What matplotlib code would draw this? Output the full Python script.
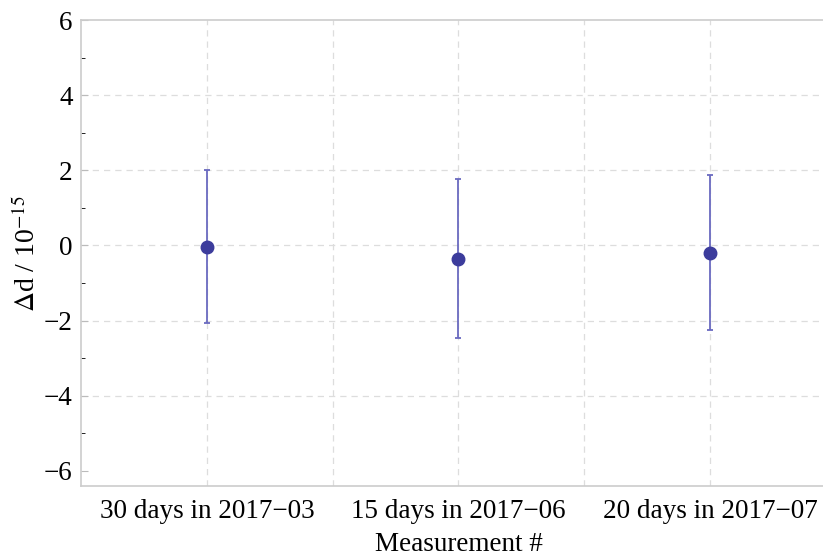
import numpy as np
import matplotlib.pyplot as plt
from matplotlib.ticker import MultipleLocator

plt.rcParams['font.family'] = ['Liberation Serif', 'DejaVu Serif']
plt.rcParams['mathtext.fontset'] = 'stix'

labels = ['30 days in 2017\u221203', '15 days in 2017\u221206', '20 days in 2017\u221207']
values = [-0.03, -0.35, -0.19]
errors = [2.04, 2.11, 2.06]

x = np.arange(1, len(values) + 1)

fig = plt.figure(figsize=(8.23, 5.56), dpi=100)
# axes run past the right edge of the figure, as in the reference
ax = fig.add_axes([81 / 823, 70 / 556, 755 / 823, 466 / 556])

ax.errorbar(x, values, yerr=errors, fmt='none', ecolor='#6a6ac0',
            elinewidth=1.3, capsize=2.5, capthick=1.3, zorder=3)
ax.plot(x, values, 'o', color='#3c3c9c', markersize=9, zorder=4)

ax.set_xlim(0.5, 3.5)
ax.set_ylim(-6.4, 6)
ax.set_xticks(x)
ax.set_xticklabels(labels)
ax.yaxis.set_major_locator(MultipleLocator(2))
ax.yaxis.set_minor_locator(MultipleLocator(1))
ax.set_yticklabels([f'{int(v)}'.replace('-', '\u2212') for v in ax.get_yticks()])

for xv in [1, 1.5, 2, 2.5, 3]:
    ax.axvline(xv, color='#dddddd', linestyle=(0, (5, 4)), linewidth=0.9, zorder=0)
for yv in [-4, -2, 0, 2, 4]:
    ax.axhline(yv, color='#dddddd', linestyle=(0, (5, 4)), linewidth=0.9, zorder=0)

for s in ax.spines.values():
    s.set_color('#cccccc')
    s.set_linewidth(1.2)

ax.tick_params(axis='both', labelsize=19.5, colors='#bbbbbb', labelcolor='black')
ax.tick_params(axis='y', which='major', length=5, direction='in', pad=6)
ax.tick_params(axis='y', which='minor', length=3, direction='in')
ax.tick_params(axis='x', length=0, pad=9)

ax.set_xlabel('Measurement #', fontsize=19.5, labelpad=6)
ax.set_ylabel(r'$\Delta$d / 10$^{-15}$', fontsize=20, labelpad=2)

fig.savefig('out.png', dpi=100)
